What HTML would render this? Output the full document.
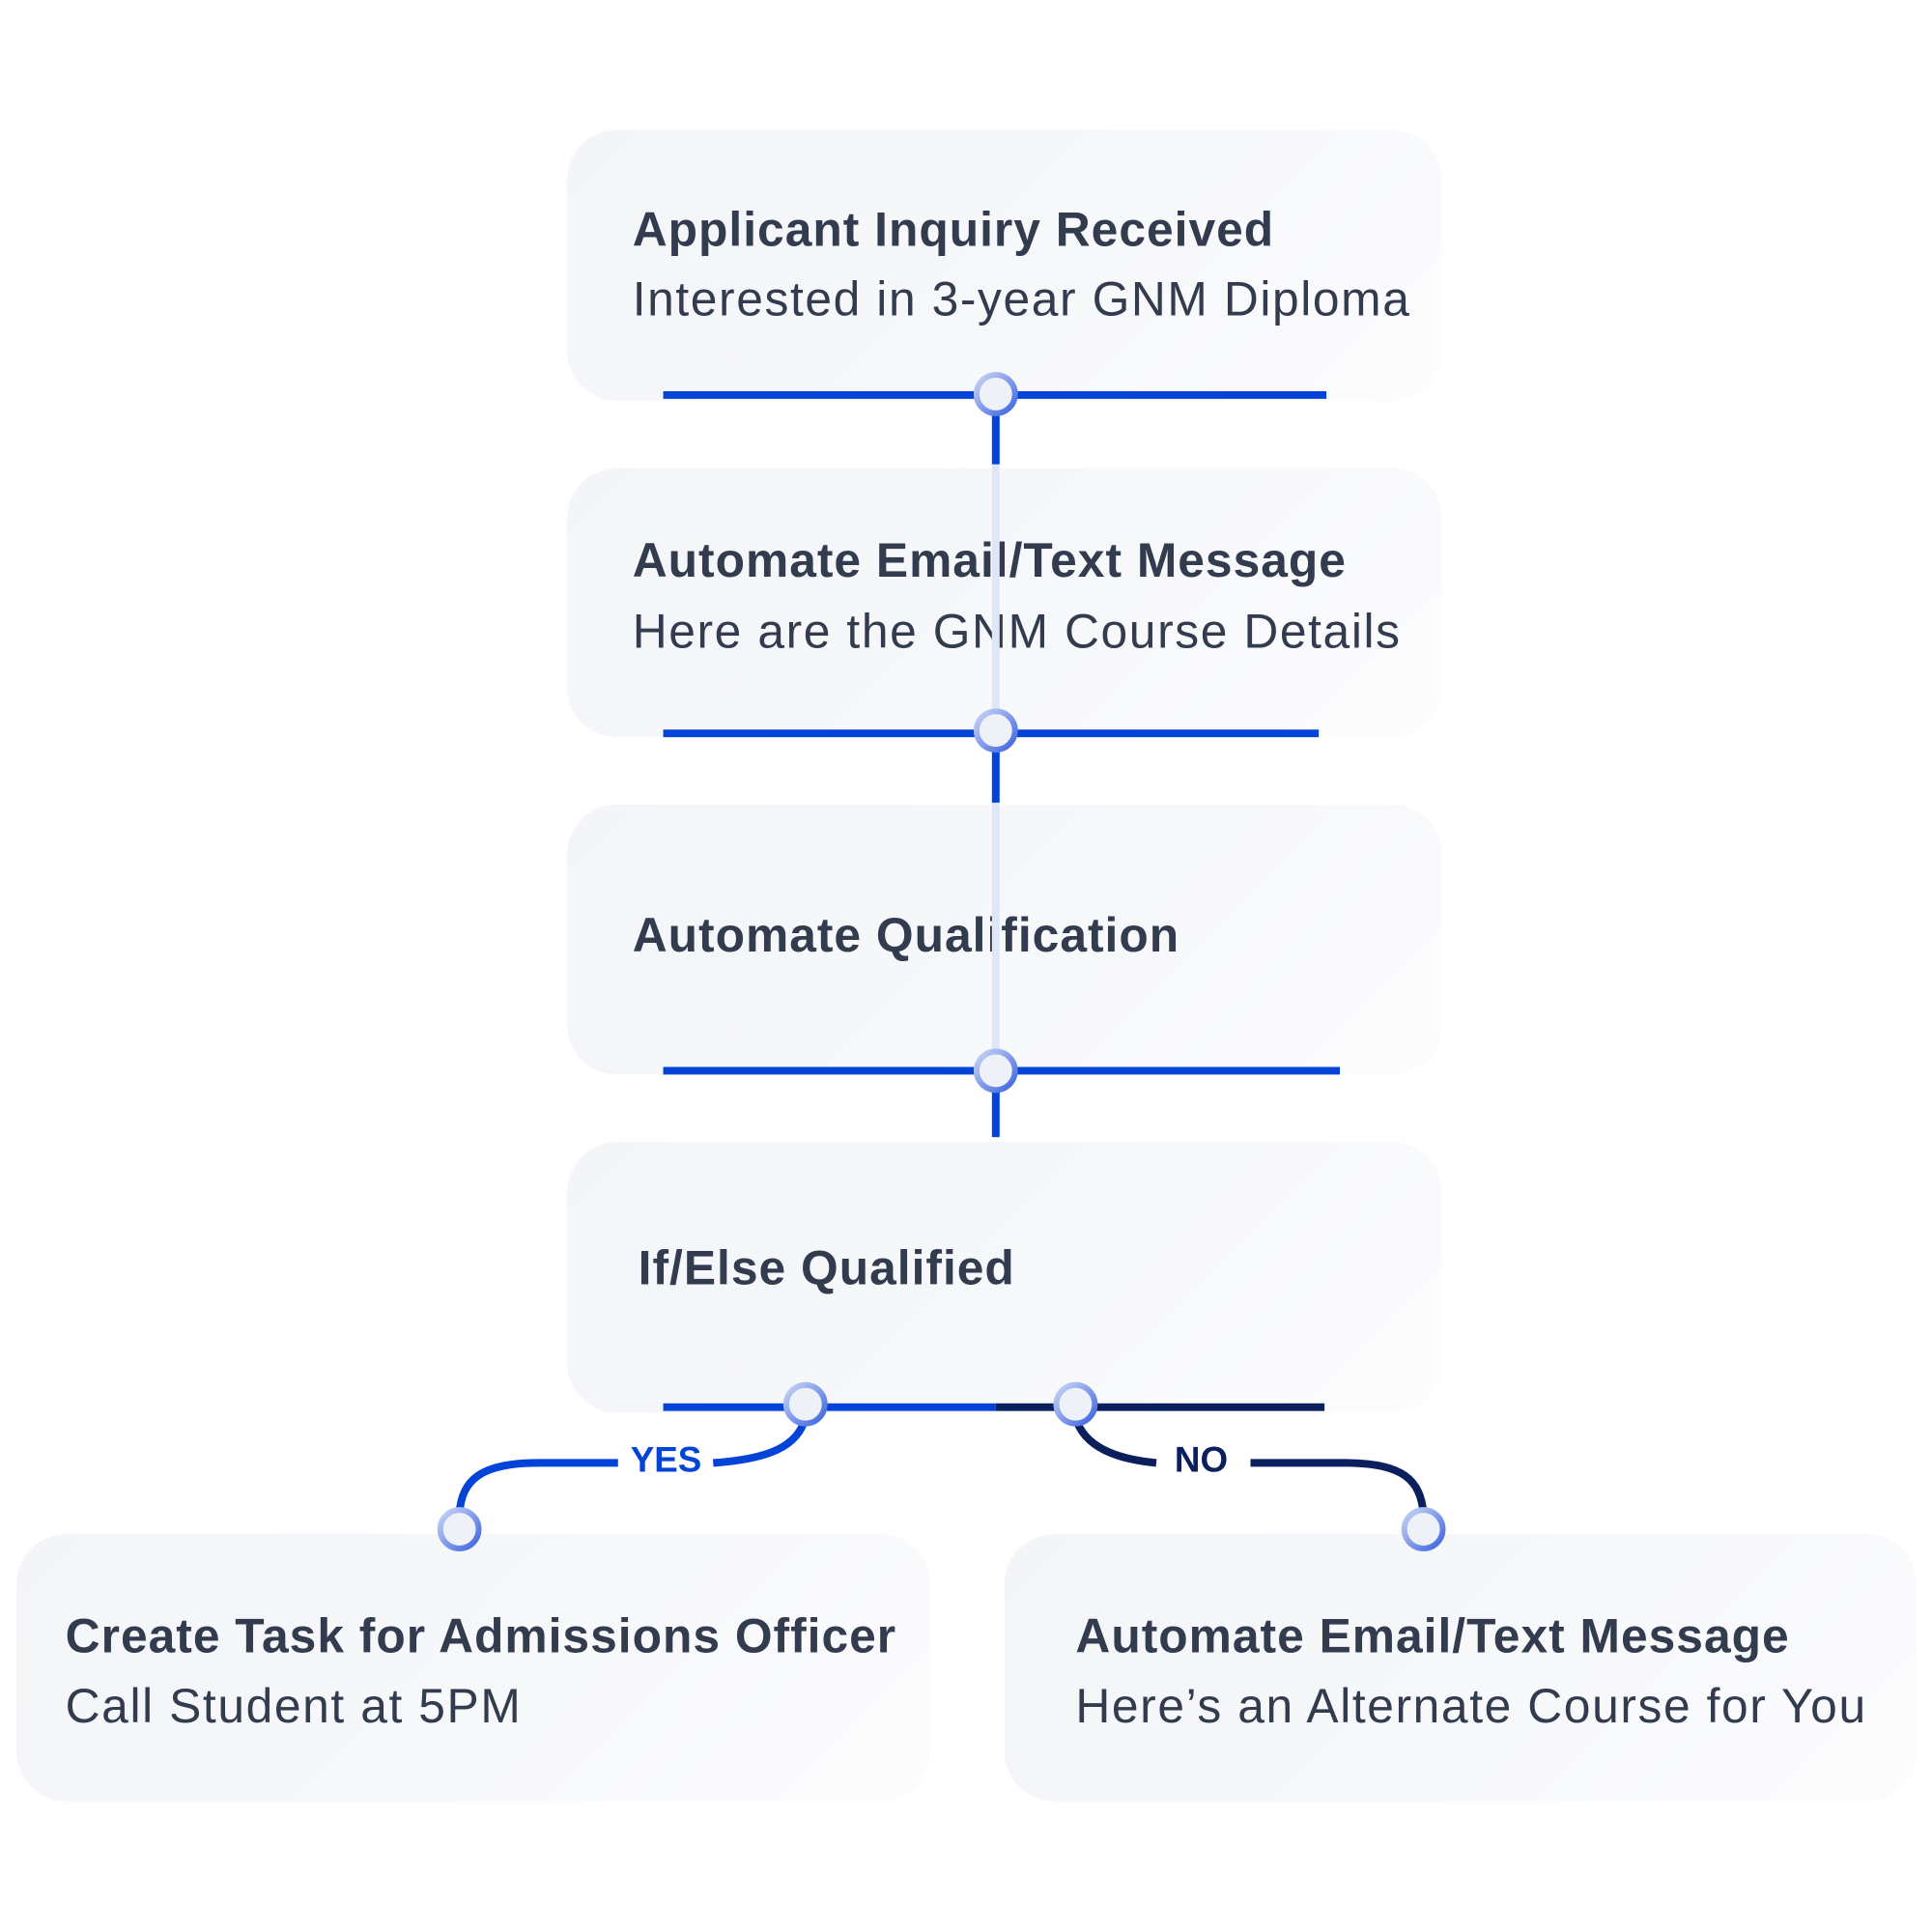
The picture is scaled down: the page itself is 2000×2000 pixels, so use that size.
<!DOCTYPE html>
<html><head><style>
body{margin:0;width:2000px;height:2000px;background:#fff;position:relative;overflow:hidden;font-family:"Liberation Sans",sans-serif;color:#323c4e}
#w{position:absolute;left:0;top:0;width:2000px;height:2000px;transform:scale(0.995);transform-origin:0 0}
.b{position:absolute;background:linear-gradient(135deg,#f3f5f8,#f7f8fa 60%,#fcfcfd);border-radius:52px}
.t{position:absolute;font-weight:bold;font-size:50px;white-space:nowrap;letter-spacing:1px}
.s{position:absolute;font-size:50px;white-space:nowrap;letter-spacing:1.6px}
svg{position:absolute;left:0;top:0}
</style></head><body><div id="w">
<div class="b" style="left:590px;top:135px;width:910px;height:282px"></div>
<div class="b" style="left:590px;top:487px;width:910px;height:280px"></div>
<div class="b" style="left:590px;top:837px;width:910px;height:281px"></div>
<div class="b" style="left:590px;top:1188px;width:910px;height:282px"></div>
<div class="b" style="left:17px;top:1596px;width:951px;height:278px"></div>
<div class="b" style="left:1045px;top:1596px;width:949px;height:278px"></div>

<div class="t" style="left:658px;top:210px">Applicant Inquiry Received</div>
<div class="s" style="left:658px;top:282px">Interested in 3-year GNM Diploma</div>
<div class="t" style="left:658px;top:554px">Automate Email/Text Message</div>
<div class="s" style="left:658px;top:628px">Here are the GNM Course Details</div>
<div class="t" style="left:658px;top:944px">Automate Qualification</div>
<div class="t" style="left:664px;top:1290px">If/Else Qualified</div>
<div class="t" style="left:68px;top:1673px">Create Task for Admissions Officer</div>
<div class="s" style="left:68px;top:1746px">Call Student at 5PM</div>
<div class="t" style="left:1119px;top:1673px">Automate Email/Text Message</div>
<div class="s" style="left:1119px;top:1746px">Here’s an Alternate Course for You</div>

<svg width="2000" height="2000">
<defs><linearGradient id="c" x1="0" y1="0" x2="1" y2="1"><stop offset="0" stop-color="#c9d5f5"/><stop offset="1" stop-color="#3d64e0"/></linearGradient></defs>
<g stroke="#dfe6f7" stroke-width="8"><line x1="1036" y1="483" x2="1036" y2="740"/><line x1="1036" y1="835" x2="1036" y2="1095"/></g>
<g stroke="#0443d8" stroke-width="8" fill="none">
<line x1="690" y1="411" x2="1380" y2="411"/><line x1="1036" y1="430" x2="1036" y2="483"/>
<line x1="690" y1="763" x2="1372" y2="763"/><line x1="1036" y1="782" x2="1036" y2="835"/>
<line x1="690" y1="1114" x2="1394" y2="1114"/><line x1="1036" y1="1133" x2="1036" y2="1183"/>
<line x1="690" y1="1464" x2="1036" y2="1464"/>
<path d="M838 1475 C830 1505 800 1518 742 1522"/>
<path d="M643 1522 L560 1522 C500 1522 480 1540 478 1575"/>
</g>
<g stroke="#0a1f5c" stroke-width="8" fill="none">
<line x1="1036" y1="1464" x2="1378" y2="1464"/>
<path d="M1119 1475 C1128 1505 1160 1518 1203 1522"/>
<path d="M1301 1522 L1400 1522 C1460 1522 1478 1540 1481 1575"/>
</g>
<g fill="#eef1f8" stroke="url(#c)" stroke-width="6">
<circle cx="1036" cy="410" r="20"/><circle cx="1036" cy="760" r="20"/><circle cx="1036" cy="1114" r="20"/>
<circle cx="838" cy="1461" r="20"/><circle cx="1119" cy="1461" r="20"/>
<circle cx="478" cy="1591" r="20"/><circle cx="1481" cy="1591" r="20"/>
</g>
<text x="656" y="1531" font-family="Liberation Sans" font-weight="bold" font-size="37" fill="#0443d8">YES</text>
<text x="1222" y="1531" font-family="Liberation Sans" font-weight="bold" font-size="37" fill="#0a1f5c">NO</text>
</svg>
</div></body></html>
